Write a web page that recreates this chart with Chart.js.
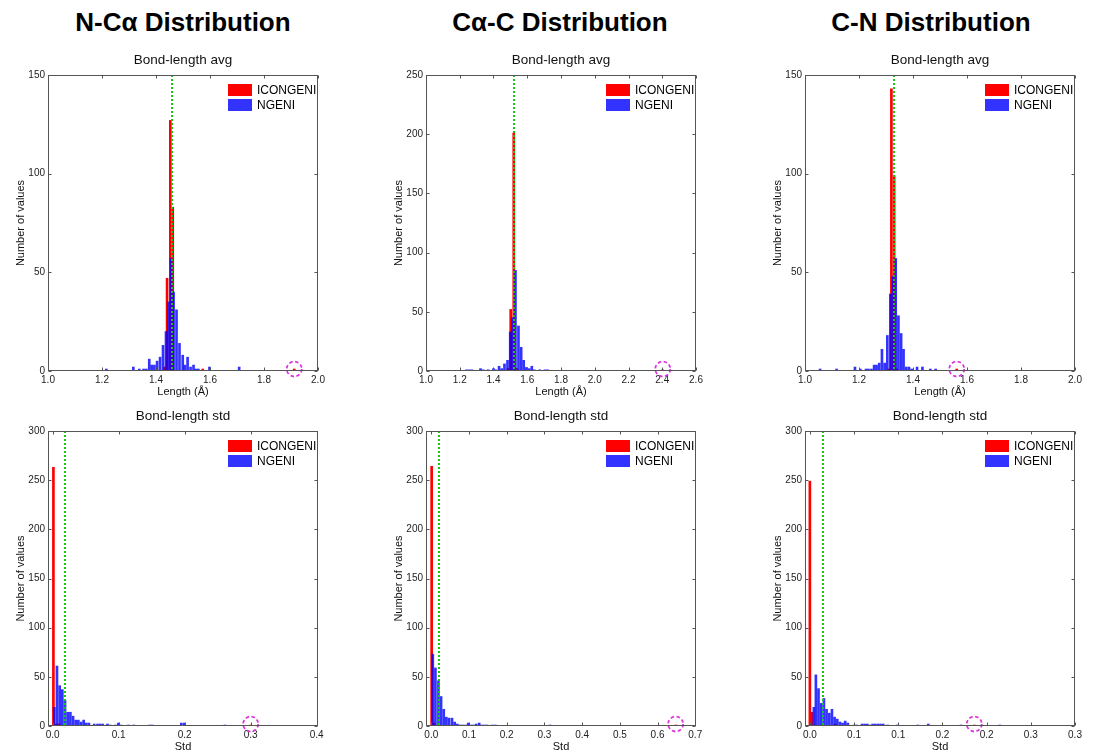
<!DOCTYPE html>
<html>
<head>
<meta charset="utf-8">
<script src="https://cdn.jsdelivr.net/npm/chart.js@4.4.1/dist/chart.umd.min.js"></script>
<style>
  html, body { margin: 0; padding: 0; background: #fff; }
  body { width: 1095px; height: 755px; position: relative; overflow: hidden; font-family: "Liberation Sans", Arial, sans-serif; }
  .heading { position: absolute; top: 7px; width: 300px; text-align: center; font-size: 26px; font-weight: bold; line-height: 30px; color: #000; }
</style>
</head>
<body>
<div class="heading" style="left:33px">N-Cα Distribution</div>
<div class="heading" style="left:410px">Cα-C Distribution</div>
<div class="heading" style="left:781px">C-N Distribution</div>
<script>
// bin centres and counts (ICONGENI = red, NGENI = blue)
const ncaAvgIconX = [1.432, 1.441, 1.453, 1.462, 1.573, 1.912];
const ncaAvgIconN = [2, 47, 127, 83, 1, 1];
const ncaAvgNgeniX = [1.216, 1.316, 1.338, 1.354, 1.364, 1.375, 1.384, 1.394, 1.404, 1.415, 1.426, 1.437, 1.446,
  1.456, 1.465, 1.476, 1.487, 1.499, 1.507, 1.517, 1.528, 1.539, 1.548, 1.557, 1.598, 1.708];
const ncaAvgNgeniN = [1, 2, 1, 1, 1, 6, 3, 3, 5, 7, 13, 20, 35, 57, 40, 31, 14, 8, 3, 7, 2, 3, 1, 1, 2, 2];

const cacAvgIconX = [1.486, 1.502, 1.520, 1.538, 2.403];
const cacAvgIconN = [2, 52, 201, 2, 1];
const cacAvgNgeniX = [1.240, 1.256, 1.272, 1.323, 1.339, 1.368, 1.400, 1.414, 1.433, 1.449, 1.465, 1.483, 1.499,
  1.512, 1.530, 1.548, 1.564, 1.579, 1.595, 1.611, 1.627, 1.642, 1.674, 1.705, 1.721];
const cacAvgNgeniN = [1, 1, 1, 2, 1, 1, 2, 1, 4, 2, 6, 9, 33, 45, 85, 38, 20, 9, 3, 2, 4, 1, 1, 1, 1];

const cnAvgIconX = [1.310, 1.320, 1.330, 1.340, 1.562];
const cnAvgIconN = [1, 143, 99, 1, 1];
const cnAvgNgeniX = [1.056, 1.117, 1.185, 1.205, 1.226, 1.235, 1.246, 1.256, 1.265, 1.275, 1.285, 1.295, 1.305,
  1.316, 1.326, 1.336, 1.346, 1.356, 1.365, 1.375, 1.385, 1.395, 1.415, 1.435, 1.464, 1.484];
const cnAvgNgeniN = [1, 1, 2, 1, 1, 1, 1, 3, 3, 4, 11, 4, 18, 39, 48, 57, 28, 19, 11, 2, 2, 1, 2, 2, 1, 1];

const ncaStdIconX = [0.0012, 0.0055, 0.0095, 0.300];
const ncaStdIconN = [263, 2, 2, 1];
const ncaStdNgeniX = [0.0025, 0.0066, 0.0107, 0.0147, 0.0188, 0.0228, 0.0269, 0.031, 0.035, 0.039, 0.043, 0.047,
  0.051, 0.055, 0.063, 0.068, 0.072, 0.076, 0.083, 0.087, 0.095, 0.0995, 0.1036, 0.115, 0.123, 0.147, 0.151,
  0.195, 0.1995, 0.261];
const ncaStdNgeniN = [19, 61, 41, 37, 26, 14, 14, 10, 6, 6, 4, 6, 3, 3, 2, 2, 2, 2, 2, 1, 1, 3, 1, 1, 1, 1, 1, 3, 3, 1];

const cacStdIconX = [0.001, 0.008, 0.648];
const cacStdIconN = [264, 3, 1];
const cacStdNgeniX = [0.004, 0.011, 0.019, 0.026, 0.033, 0.040, 0.047, 0.055, 0.062, 0.069, 0.076, 0.083, 0.091,
  0.098, 0.105, 0.112, 0.119, 0.127, 0.134, 0.141, 0.148, 0.162, 0.170, 0.315];
const cacStdNgeniN = [73, 59, 46, 30, 17, 9, 8, 8, 4, 2, 1, 1, 1, 3, 1, 1, 2, 3, 1, 1, 1, 1, 1, 1];

const cnStdIconX = [0.0, 0.0023, 0.0285, 0.186];
const cnStdIconN = [249, 14, 2, 1];
const cnStdNgeniX = [0.0045, 0.0068, 0.0098, 0.0129, 0.0159, 0.0189, 0.0220, 0.0250, 0.0280, 0.0310, 0.0340,
  0.0370, 0.0400, 0.0430, 0.0500, 0.0530, 0.0590, 0.0620, 0.0650, 0.0680, 0.0710, 0.0740, 0.0770, 0.0800,
  0.0830, 0.0880, 0.0990, 0.1220, 0.1340, 0.1710, 0.2150];
const cnStdNgeniN = [19, 52, 38, 23, 28, 17, 13, 17, 9, 7, 4, 3, 5, 3, 1, 1, 2, 2, 2, 1, 2, 2, 2, 2, 2, 1, 1, 1, 2, 1, 1];

// green reference values and the circled outliers
const refValues = [1.458, 1.522, 1.329, 0.019, 0.020, 0.015];
const outliers = [1.912, 2.403, 1.562, 0.300, 0.648, 0.186];

// tick values / labels
const avgTicksShort = [1.0, 1.2, 1.4, 1.6, 1.8, 2.0];
const avgLabelsShort = ['1.0', '1.2', '1.4', '1.6', '1.8', '2.0'];
const avgTicksLong = [1.0, 1.2, 1.4, 1.6, 1.8, 2.0, 2.2, 2.4, 2.6];
const avgLabelsLong = ['1.0', '1.2', '1.4', '1.6', '1.8', '2.0', '2.2', '2.4', '2.6'];
const ncaStdTicks = [0, 0.1, 0.2, 0.3, 0.4];
const ncaStdLabels = ['0.0', '0.1', '0.2', '0.3', '0.4'];
const cacStdTicks = [0, 0.1, 0.2, 0.3, 0.4, 0.5, 0.6, 0.7];
const cacStdLabels = ['0.0', '0.1', '0.2', '0.3', '0.4', '0.5', '0.6', '0.7'];
const cnStdTicks = [0, 0.05, 0.1, 0.15, 0.2, 0.25, 0.3];
const cnStdLabels = ['0.0', '0.1', '0.1', '0.2', '0.2', '0.3', '0.3'];

const RED = '#ff0000';
const BLUE = 'rgba(0, 0, 255, 0.8)';
const PLOT_W = 270;

Chart.defaults.font.family = '"Liberation Sans", Arial, sans-serif';
Chart.defaults.color = '#222';

function toPoints(xs, ns) {
  return xs.map((x, i) => ({ x: x, y: ns[i] }));
}

// box, inward ticks, reference line, outlier circle and legend
const framePlugin = {
  id: 'frame',
  afterDatasetsDraw(chart, args, opts) {
    const { ctx, chartArea: a, scales: { x, y } } = chart;
    ctx.save();

    // green dotted reference line
    const rx = Math.round(x.getPixelForValue(opts.ref));
    ctx.strokeStyle = 'rgb(20, 200, 20)';
    ctx.lineWidth = 2;
    ctx.setLineDash([2, 2]);
    ctx.beginPath();
    ctx.moveTo(rx, a.top);
    ctx.lineTo(rx, a.bottom);
    ctx.stroke();

    // dashed magenta circle round the outlier
    ctx.strokeStyle = '#dd33dd';
    ctx.lineWidth = 1.8;
    ctx.setLineDash([3.5, 2.5]);
    ctx.beginPath();
    ctx.arc(x.getPixelForValue(opts.circle), y.getPixelForValue(0) - 2, 7.5, 0, Math.PI * 2);
    ctx.stroke();
    ctx.setLineDash([]);

    // axes box with inward ticks
    const L = Math.round(a.left) + 0.5, R = Math.round(a.right) - 0.5;
    const T = Math.round(a.top) + 0.5, B = Math.round(a.bottom) - 0.5;
    ctx.strokeStyle = '#555';
    ctx.lineWidth = 1;
    ctx.strokeRect(L, T, R - L, B - T);
    ctx.beginPath();
    x.ticks.forEach(t => {
      const px = Math.round(x.getPixelForValue(t.value)) + 0.5;
      ctx.moveTo(px, B); ctx.lineTo(px, B - 3);
      ctx.moveTo(px, T); ctx.lineTo(px, T + 3);
    });
    y.ticks.forEach(t => {
      const py = Math.round(y.getPixelForValue(t.value)) + 0.5;
      ctx.moveTo(L, py); ctx.lineTo(L + 3, py);
      ctx.moveTo(R, py); ctx.lineTo(R - 3, py);
    });
    ctx.stroke();

    // legend in the top right corner
    const lx = a.right - 90, ly = a.top + 9;
    ctx.font = '12px "Liberation Sans", Arial, sans-serif';
    ctx.textBaseline = 'middle';
    chart.data.datasets.forEach((ds, i) => {
      ctx.fillStyle = ds.backgroundColor;
      ctx.fillRect(lx, ly + i * 15, 24, 12);
      ctx.fillStyle = '#000';
      ctx.fillText(ds.label, lx + 29, ly + i * 15 + 6.5);
    });
    ctx.restore();
  }
};

const panels = [
  { left: 48, top: 45, h: 355, sub: 'Bond-length avg', xTitle: 'Length (Å)', xMin: 1.0, xMax: 2.0, yMax: 150,
    ticks: avgTicksShort, labels: avgLabelsShort, icon: [ncaAvgIconX, ncaAvgIconN], ngeni: [ncaAvgNgeniX, ncaAvgNgeniN],
    ref: refValues[0], circle: outliers[0] },
  { left: 426, top: 45, h: 355, sub: 'Bond-length avg', xTitle: 'Length (Å)', xMin: 1.0, xMax: 2.6, yMax: 250,
    ticks: avgTicksLong, labels: avgLabelsLong, icon: [cacAvgIconX, cacAvgIconN], ngeni: [cacAvgNgeniX, cacAvgNgeniN],
    ref: refValues[1], circle: outliers[1] },
  { left: 805, top: 45, h: 355, sub: 'Bond-length avg', xTitle: 'Length (Å)', xMin: 1.0, xMax: 2.0, yMax: 150,
    ticks: avgTicksShort, labels: avgLabelsShort, icon: [cnAvgIconX, cnAvgIconN], ngeni: [cnAvgNgeniX, cnAvgNgeniN],
    ref: refValues[2], circle: outliers[2] },
  { left: 48, top: 401, h: 354, sub: 'Bond-length std', xTitle: 'Std', xMin: -0.007, xMax: 0.402, yMax: 300,
    ticks: ncaStdTicks, labels: ncaStdLabels, icon: [ncaStdIconX, ncaStdIconN], ngeni: [ncaStdNgeniX, ncaStdNgeniN],
    ref: refValues[3], circle: outliers[3] },
  { left: 426, top: 401, h: 354, sub: 'Bond-length std', xTitle: 'Std', xMin: -0.014, xMax: 0.702, yMax: 300,
    ticks: cacStdTicks, labels: cacStdLabels, icon: [cacStdIconX, cacStdIconN], ngeni: [cacStdNgeniX, cacStdNgeniN],
    ref: refValues[4], circle: outliers[4] },
  { left: 805, top: 401, h: 354, sub: 'Bond-length std', xTitle: 'Std', xMin: -0.0055, xMax: 0.3, yMax: 300,
    ticks: cnStdTicks, labels: cnStdLabels, icon: [cnStdIconX, cnStdIconN], ngeni: [cnStdNgeniX, cnStdNgeniN],
    ref: refValues[5], circle: outliers[5] }
];

panels.forEach(p => {
  const w = PLOT_W + 48 + 20;
  const canvas = document.createElement('canvas');
  canvas.width = w;
  canvas.height = p.h;
  canvas.style.cssText = 'position:absolute;left:' + (p.left - 48) + 'px;top:' + p.top + 'px;width:' + w + 'px;height:' + p.h + 'px';
  document.body.appendChild(canvas);

  new Chart(canvas.getContext('2d'), {
    type: 'bar',
    data: {
      datasets: [
        { label: 'ICONGENI', data: toPoints(p.icon[0], p.icon[1]), backgroundColor: RED, order: 2 },
        { label: 'NGENI', data: toPoints(p.ngeni[0], p.ngeni[1]), backgroundColor: BLUE, order: 1 }
      ]
    },
    options: {
      responsive: false,
      animation: false,
      layout: { padding: { right: 20 } },
      datasets: { bar: { grouped: false, barThickness: 2 } },
      scales: {
        x: {
          type: 'linear',
          offset: false,
          bounds: 'data',
          min: p.xMin,
          max: p.xMax,
          grid: { display: false, drawTicks: false, offset: false },
          border: { display: false },
          afterBuildTicks: s => { s.ticks = p.ticks.map(v => ({ value: v })); },
          afterFit: s => { s.height = 29; },
          ticks: { autoSkip: false, maxRotation: 0, padding: 3, font: { size: 10 }, color: '#222',
            callback: (v, i) => p.labels[i] },
          title: { display: true, text: p.xTitle, font: { size: 11 }, color: '#111', padding: { top: 0, bottom: 1.5 } }
        },
        y: {
          min: 0,
          max: p.yMax,
          grid: { display: false, drawTicks: false },
          border: { display: false },
          afterFit: s => { s.width = 48; },
          ticks: { stepSize: 50, padding: 3, font: { size: 10 }, color: '#222' },
          title: { display: true, text: 'Number of values', font: { size: 11 }, color: '#111', padding: { top: 14, bottom: 0 } }
        }
      },
      plugins: {
        legend: { display: false },
        tooltip: { enabled: false },
        title: { display: true, text: p.sub, fullSize: false, color: '#111',
          font: { size: 13.5, weight: 'normal' }, padding: { top: 7, bottom: 6.8 } },
        frame: { ref: p.ref, circle: p.circle }
      }
    },
    plugins: [framePlugin]
  });
});
</script>
</body>
</html>
